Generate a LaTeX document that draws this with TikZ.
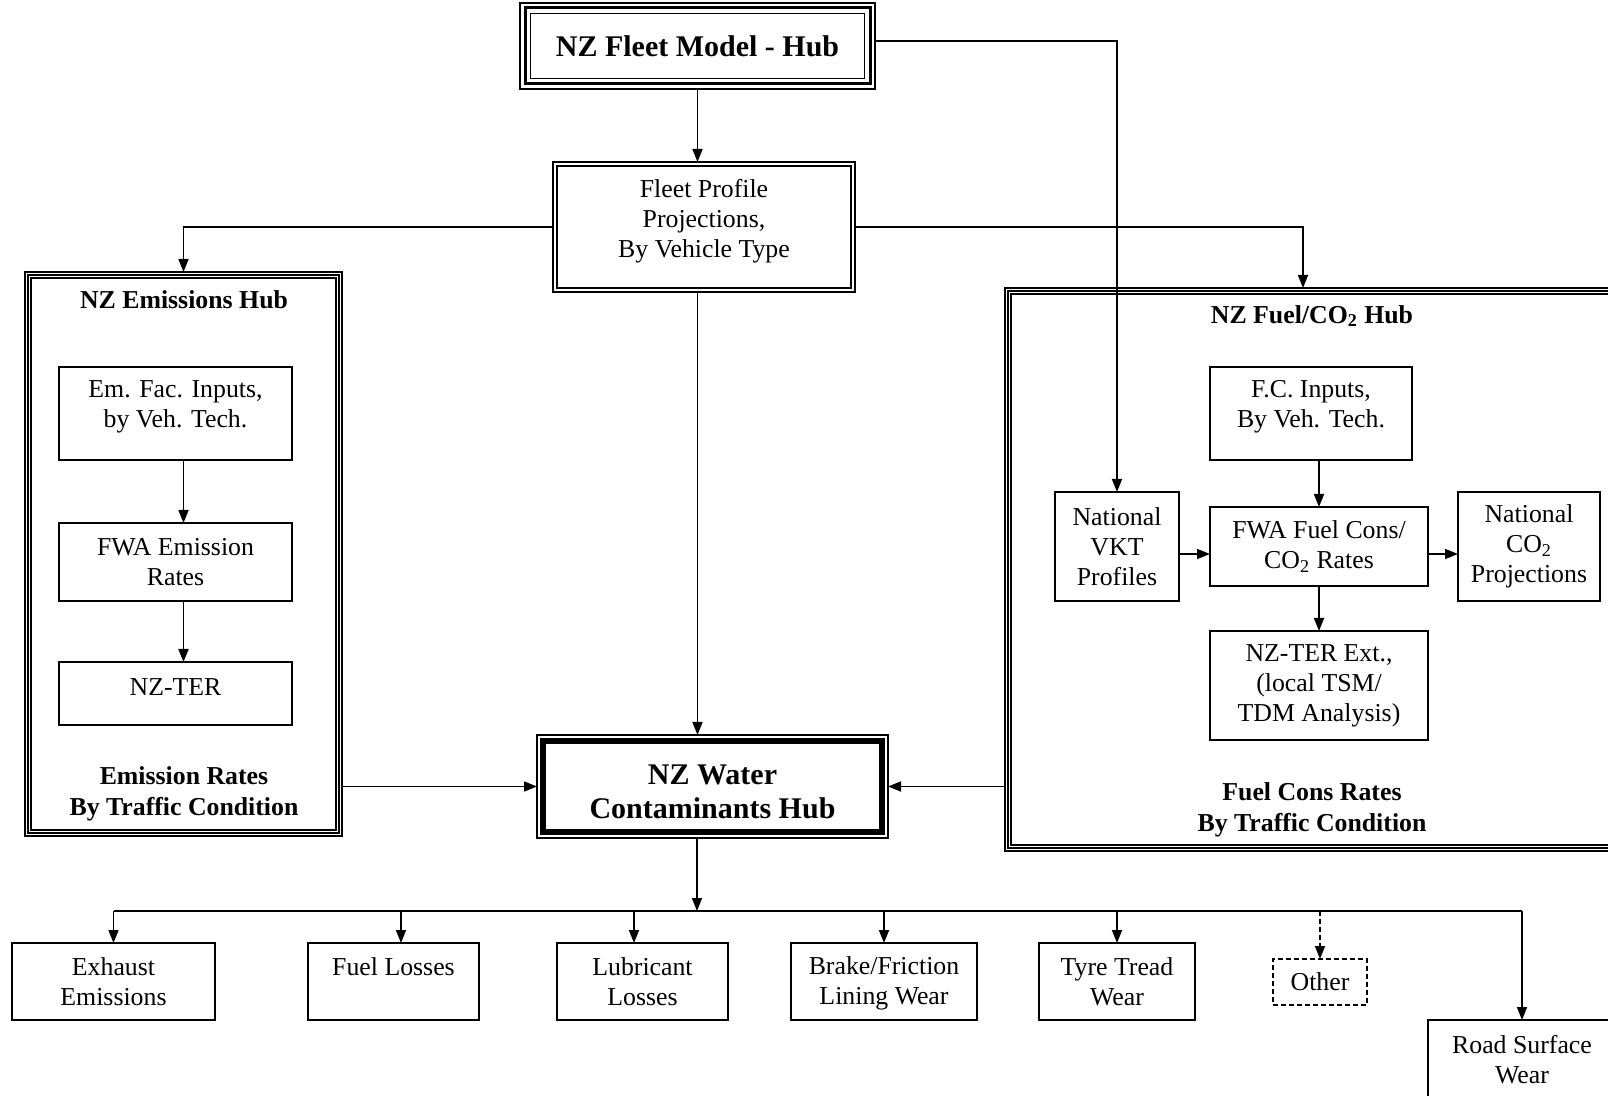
\documentclass[tikz,border=0pt]{standalone}
\usepackage{fontspec}
\setmainfont{Liberation Serif}
\usetikzlibrary{arrows.meta,calc}
\newcommand{\nfont}{\fontsize{12.9}{15}\selectfont}
\newcommand{\bfont}{\fontsize{12.9}{15.5}\selectfont\bfseries}
\newcommand{\hfont}{\fontsize{15}{17}\selectfont\bfseries}
\newcommand{\insetbox}[3]{\draw[line width=#3] ([shift={(#2,#2)}]#1.north west) rectangle ([shift={(-#2,-#2)}]#1.south east);}
\begin{document}
\begin{tikzpicture}[x=0.5pt,y=-0.5pt,
 bx/.style={draw, line width=0.8pt, align=center, font=\nfont, inner sep=0pt, outer sep=0pt},
 hub/.style={draw, line width=0.6pt, align=center, inner sep=0pt, outer sep=0pt},
 ttl/.style={align=center, font=\bfont, inner sep=0pt},
 arr/.style={line width=0.85pt, -{Triangle[length=6.5pt,width=5pt]}},
 ln/.style={line width=0.85pt},
 bot/.style={bx, minimum height=38.5pt},
]
\useasboundingbox (0,0) rectangle (1608,1096);

% Fleet model hub
\node[hub, minimum width=177.5pt, minimum height=43pt, font=\hfont] (fm) at (697.5,46) {NZ Fleet Model - Hub};
\insetbox{fm}{5}{1.5pt}
\insetbox{fm}{10.5}{0.6pt}

% Fleet profile
\node[hub, minimum width=151pt, minimum height=65pt, font=\nfont, text depth=8.3pt] (fp) at (704,227) {Fleet Profile\\Projections,\\By Vehicle Type};
\insetbox{fp}{4}{0.6pt}

% Emissions hub
\node[hub, minimum width=158.5pt, minimum height=282pt] (eh) at (183.5,554) {};
\insetbox{eh}{3}{0.55pt}
\insetbox{eh}{6}{0.55pt}
\node[ttl] (eht) at (184,300) {NZ Emissions Hub};
\node[ttl] (ehb) at (184,794) {Emission Rates\\By Traffic Condition};
\node[bx, minimum width=116.5pt, minimum height=46.5pt, text depth=9.8pt] (ef) at (175.5,413.5) {Em. Fac. Inputs,\\by Veh. Tech.};
\node[bx, minimum width=116.5pt, minimum height=39pt] (fwe) at (175.5,562) {FWA Emission\\Rates};
\node[bx, minimum width=116.5pt, minimum height=31.5pt, text depth=6.5pt] (ter) at (175.5,693.5) {NZ-TER};

% Water contaminants hub
\node[hub, minimum width=175.5pt, minimum height=51.5pt, font=\hfont] (wh) at (712.5,786.5) {\rule{0pt}{15pt}NZ Water\\Contaminants Hub};
\insetbox{wh}{6}{2.6pt}

% Fuel / CO2 hub
\node[hub, minimum width=307pt, minimum height=281.5pt] (fuh) at (1312,569.5) {};
\insetbox{fuh}{3}{0.55pt}
\insetbox{fuh}{6}{0.55pt}
\node[ttl] (fuht) at (1312,316) {NZ Fuel/CO\textsubscript{2} Hub};
\node[ttl] (fuhb) at (1312,810) {Fuel Cons Rates\\By Traffic Condition};
\node[bx, minimum width=101pt, minimum height=46.5pt, text depth=9.8pt] (fci) at (1311,413.5) {F.C. Inputs,\\By Veh. Tech.};
\node[bx, minimum width=62pt, minimum height=54.5pt] (vkt) at (1117,546.5) {National\\VKT\\Profiles};
\node[bx, minimum width=109pt, minimum height=39.5pt] (fwf) at (1319,546.5) {FWA Fuel Cons/\\CO\textsubscript{2} Rates};
\node[bx, minimum width=71pt, minimum height=54.5pt] (nco) at (1529,546.5) {National\\CO\textsubscript{2}\\Projections};
\node[bx, minimum width=109pt, minimum height=54.5pt] (tex) at (1319,685.5) {NZ-TER Ext.,\\(local TSM/\\TDM Analysis)};

% Bottom row
\node[bot, minimum width=101.5pt] (ex) at (113.5,981.5) {Exhaust\\Emissions};
\node[bot, minimum width=85.5pt, text depth=14.5pt] (fl) at (393.5,981.5) {Fuel Losses};
\node[bot, minimum width=85.5pt] (lu) at (642.5,981.5) {Lubricant\\Losses};
\node[bot, minimum width=93pt, text depth=1pt] (br) at (884,981.5) {Brake/Friction\\Lining Wear};
\node[bot, minimum width=78pt] (ty) at (1117,981.5) {Tyre Tread\\Wear};
\node[bx, minimum width=47pt, minimum height=23pt, dash pattern=on 2.5pt off 1.5pt] (ot) at (1320,982) {Other};
\node[bx, minimum width=94pt, minimum height=39.5pt] (rs) at (1522,1059.5) {Road Surface\\Wear};

% Connectors
\draw[arr] (fm.south) -- (fp.north -| fm.south);
\draw[arr] ([yshift=2.5pt]fm.east) -| (vkt.north);
\draw[arr] (fp.west) -| (eh.north);
\draw[arr] (fp.east) -| ($(fuh.north west)+(298,0)$);
\draw[arr] (fp.south -| fm.south) -- (wh.north -| fm.south);
\draw[arr] (ef.south -| eh.north) -- (fwe.north -| eh.north);
\draw[arr] (fwe.south -| eh.north) -- (ter.north -| eh.north);
\draw[arr] (eh.east |- wh.west) -- (wh.west);
\draw[arr] (fuh.west |- wh.east) -- (wh.east);
\draw[arr] (fci.south -| fwf.north) -- (fwf.north);
\draw[arr] ([yshift=-3.75pt]vkt.east) -- ([yshift=-3.75pt]vkt.east -| fwf.west);
\draw[arr] ([yshift=-3.75pt]fwf.east) -- ([yshift=-3.75pt]fwf.east -| nco.west);
\draw[arr] (fwf.south) -- (tex.north);

\coordinate (bus) at (697,911);
\draw[arr] (wh.south -| bus) -- (bus);
\draw[ln] (ex.north |- bus) -- (rs.north |- bus);
\draw[arr] (ex.north |- bus) -- (ex.north);
\draw[arr] ($(fl.north |- bus)+(7.5,0)$) -- ($(fl.north)+(7.5,0)$);
\draw[arr] ($(lu.north |- bus)+(-8.5,0)$) -- ($(lu.north)+(-8.5,0)$);
\draw[arr] (br.north |- bus) -- (br.north);
\draw[arr] (ty.north |- bus) -- (ty.north);
\draw[arr, dash pattern=on 2.5pt off 1.5pt] (ot.north |- bus) -- (ot.north);
\draw[arr] (rs.north |- bus) -- (rs.north);
\end{tikzpicture}
\end{document}
